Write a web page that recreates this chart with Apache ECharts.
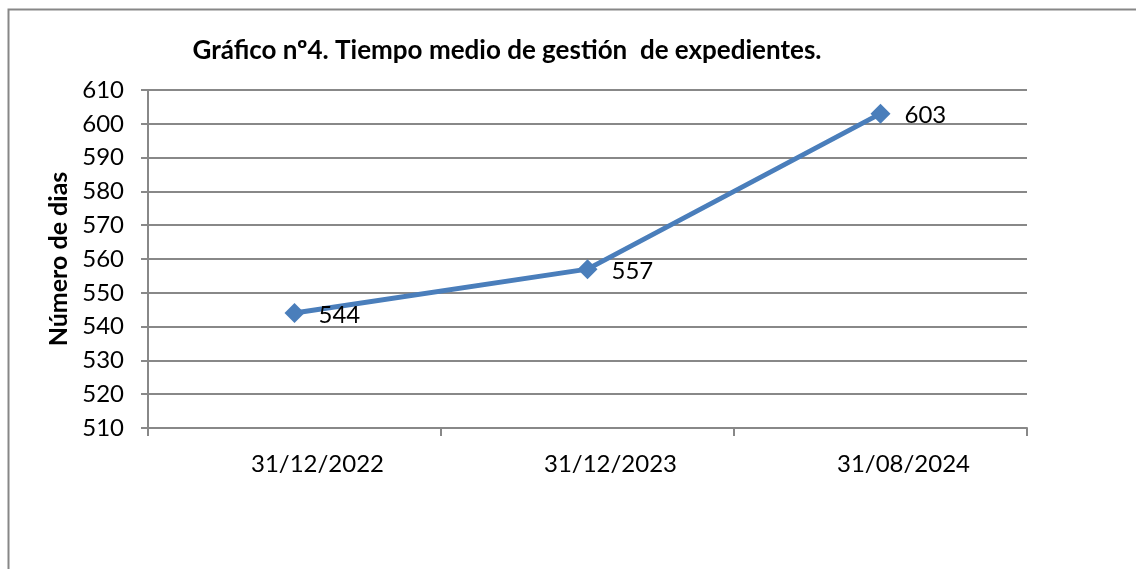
<!DOCTYPE html>
<html>
<head>
<meta charset="utf-8">
<script src="https://cdn.jsdelivr.net/npm/echarts@6/dist/echarts.min.js"></script>
<style>
  html, body { margin: 0; padding: 0; background: #fff; }
  #chart { width: 1136px; height: 569px; }
</style>
</head>
<body>
<div id="chart"></div>
<script>
var fechas = ['31/12/2022', '31/12/2023', '31/08/2024'];
var dias = [544, 557, 603];
var yTicks = [510, 520, 530, 540, 550, 560, 570, 580, 590, 600, 610];

var myChart = echarts.init(document.getElementById('chart'));
var fuente = 'Lato, "Open Sans", sans-serif';

var option = {
    animation: false,
    title: {
        text: 'Gráfico nº4. Tiempo medio de gestión  de expedientes.',
        left: 502,
        top: 33,
        textAlign: 'center',
        textStyle: { fontFamily: fuente, fontSize: 26, fontWeight: 'bold', color: '#000' }
    },
    graphic: [{
        type: 'rect',
        shape: { x: 8.5, y: 9.5, width: 1300, height: 700 },
        style: { fill: 'none', stroke: '#878787', lineWidth: 2 },
        silent: true
    }],
    grid: { left: 148, right: 109, top: 90, bottom: 141 },
    xAxis: {
        type: 'category',
        data: fechas,
        boundaryGap: true,
        axisLine: { lineStyle: { color: '#888', width: 2 } },
        axisTick: { show: true, length: 8, lineStyle: { color: '#888', width: 2 } },
        // las etiquetas del original van algo desplazadas a la derecha
        axisLabel: { fontFamily: fuente, fontSize: 24, color: '#000', margin: 24, padding: [0, 0, 0, 46] }
    },
    yAxis: {
        type: 'value',
        min: yTicks[0],
        max: yTicks[yTicks.length - 1],
        interval: 10,
        name: 'Número de dias',
        nameLocation: 'middle',
        nameGap: 73,
        nameTextStyle: { fontFamily: fuente, fontSize: 25, fontWeight: 'bold', color: '#000' },
        axisLine: { show: true, lineStyle: { color: '#888', width: 2 } },
        axisTick: { show: true, length: 7, lineStyle: { color: '#888', width: 2 } },
        axisLabel: { fontFamily: fuente, fontSize: 24, color: '#000', margin: 24 },
        splitLine: { lineStyle: { color: '#888', width: 2 } }
    },
    series: [{
        type: 'line',
        data: dias,
        symbol: 'diamond',
        symbolSize: 20,
        lineStyle: { color: '#4a7ebb', width: 5 },
        itemStyle: { color: '#4a7ebb' },
        label: {
            show: true,
            position: 'right',
            distance: 14,
            fontFamily: fuente,
            fontSize: 24,
            color: '#000',
            offset: [0, 2]
        }
    }]
};

if (option && typeof option === "object") {
    myChart.setOption(option, true);
}
</script>
</body>
</html>
